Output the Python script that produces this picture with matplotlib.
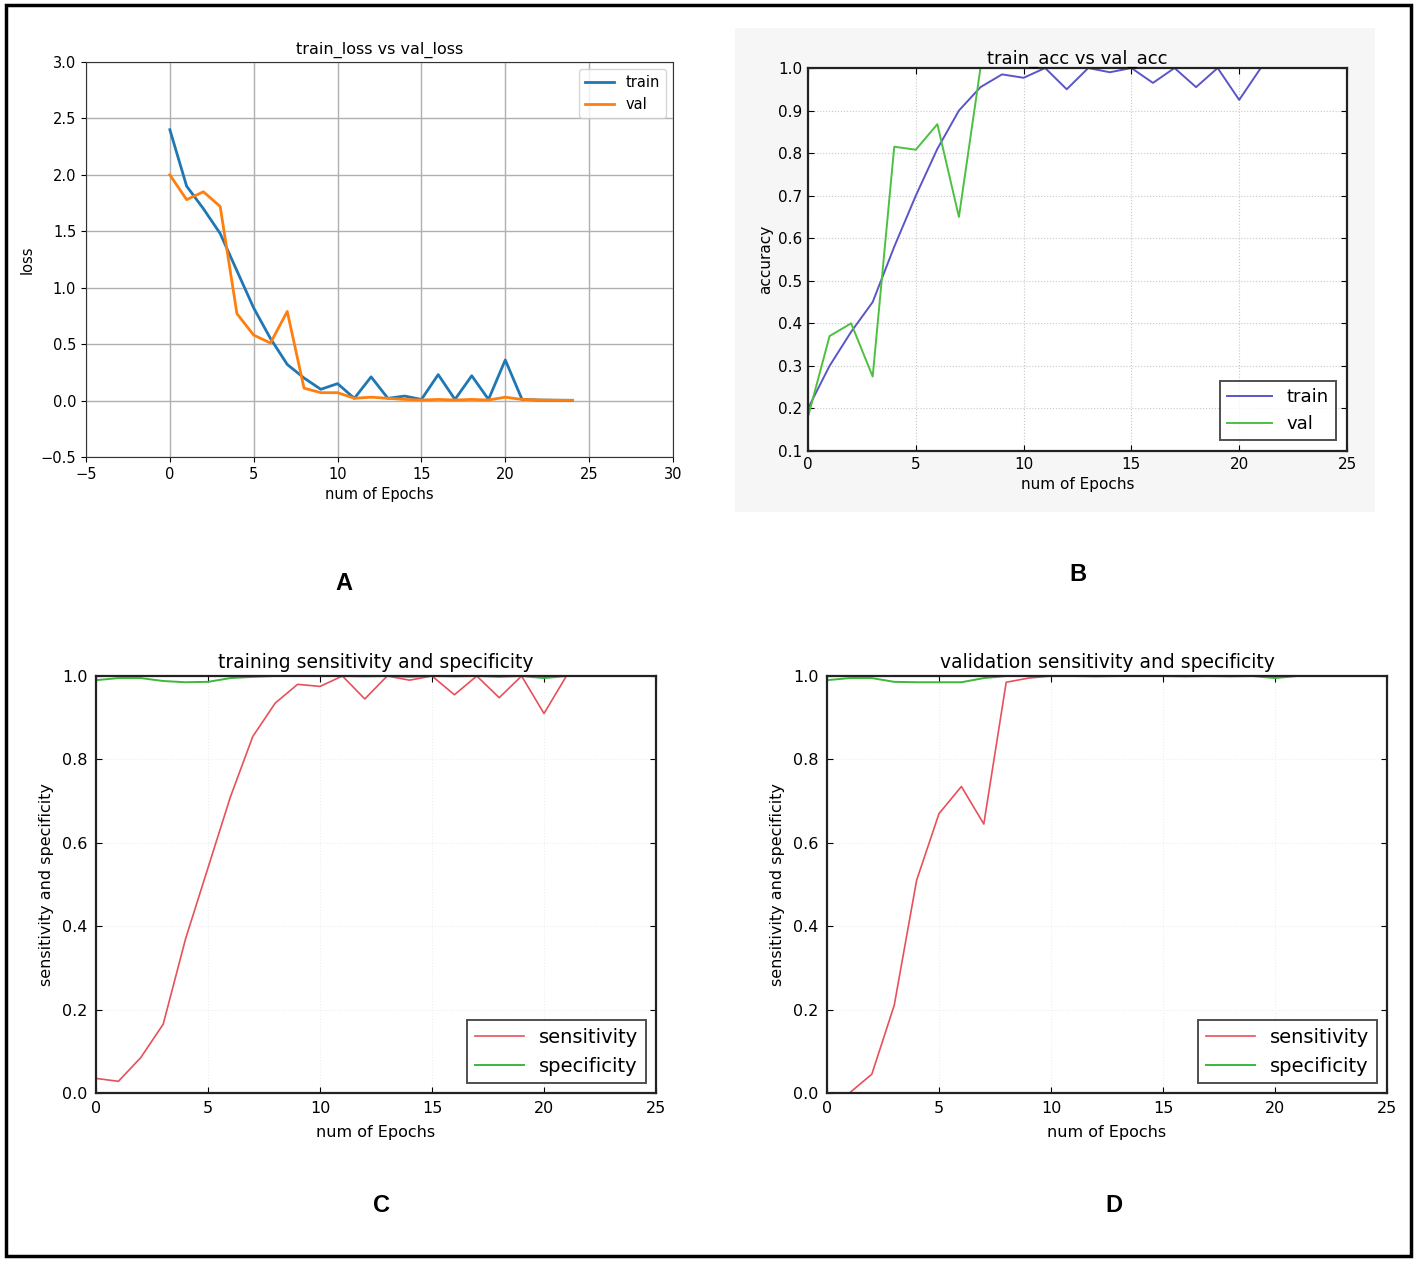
import matplotlib.pyplot as plt
from matplotlib.patches import Rectangle
import numpy as np

# ---- data ----
epochs = np.arange(25)
train_loss = [2.40, 1.90, 1.70, 1.48, 1.15, 0.82, 0.55, 0.32, 0.20, 0.10, 0.15, 0.02,
              0.21, 0.02, 0.04, 0.01, 0.23, 0.01, 0.22, 0.01, 0.36, 0.01, 0.005, 0.003, 0.002]
val_loss = [2.00, 1.78, 1.85, 1.72, 0.77, 0.58, 0.51, 0.79, 0.11, 0.07, 0.07, 0.02,
            0.03, 0.02, 0.01, 0.005, 0.01, 0.005, 0.01, 0.005, 0.03, 0.01, 0.005, 0.003, 0.002]

train_acc = [0.20, 0.30, 0.38, 0.45, 0.58, 0.70, 0.81, 0.90, 0.955, 0.985, 0.977, 1.0,
             0.95, 1.0, 0.99, 1.0, 0.965, 1.0, 0.955, 1.0, 0.925, 1.0, 1.0, 1.0, 1.0]
val_acc = [0.18, 0.37, 0.40, 0.275, 0.815, 0.808, 0.868, 0.65, 1.0, 1.0, 1.0, 1.0,
           1.0, 1.0, 1.0, 1.0, 1.0, 1.0, 1.0, 1.0, 1.0, 1.0, 1.0, 1.0, 1.0]

train_sens = [0.035, 0.028, 0.085, 0.165, 0.37, 0.54, 0.71, 0.855, 0.935, 0.98, 0.975, 1.0,
              0.945, 1.0, 0.99, 1.0, 0.955, 1.0, 0.948, 1.0, 0.91, 1.0, 1.0, 1.0, 1.0]
train_spec = [0.99, 0.995, 0.995, 0.988, 0.985, 0.986, 0.995, 0.998, 1.0, 1.0, 1.0, 1.0,
              0.999, 1.0, 0.998, 1.0, 0.999, 1.0, 0.998, 1.0, 0.995, 1.0, 1.0, 1.0, 1.0]

val_sens = [0.0, 0.0, 0.045, 0.21, 0.51, 0.67, 0.735, 0.645, 0.985, 0.995, 1.0, 1.0,
            1.0, 1.0, 1.0, 1.0, 1.0, 1.0, 1.0, 1.0, 1.0, 1.0, 1.0, 1.0, 1.0]
val_spec = [0.99, 0.995, 0.995, 0.986, 0.985, 0.985, 0.985, 0.995, 1.0, 1.0, 1.0, 1.0,
            0.999, 1.0, 1.0, 1.0, 0.999, 1.0, 0.999, 1.0, 0.995, 1.0, 1.0, 1.0, 1.0]

W, H = 1417, 1261
fig = plt.figure(figsize=(W / 100, H / 100), dpi=100)
fig.patch.set_facecolor("white")


def px_axes(l, t, r, b):
    return fig.add_axes([l / W, 1 - b / H, (r - l) / W, (b - t) / H])


# light grey backdrop behind panel B (pasted screenshot)
fig.patches.append(Rectangle((735 / W, 1 - 512 / H), 640 / W, 484 / H,
                             transform=fig.transFigure, facecolor="#f6f6f6",
                             edgecolor="none", zorder=-5))

# ---- A: loss ----
ax = px_axes(86, 62, 673, 457)
ax.plot(epochs, train_loss, color="#1f77b4", lw=2, label="train")
ax.plot(epochs, val_loss, color="#ff7f0e", lw=2, label="val")
ax.set_xlim(-5, 30)
ax.set_ylim(-0.5, 3.0)
ax.set_xticks(np.arange(-5, 31, 5))
ax.set_yticks(np.arange(-0.5, 3.01, 0.5))
ax.grid(True, color="#b0b0b0", lw=1)
ax.set_title("train_loss vs val_loss", fontsize=11.5)
ax.set_xlabel("num of Epochs", fontsize=10.5)
ax.set_ylabel("loss", fontsize=10.5)
ax.tick_params(labelsize=10.5)
for s in ax.spines.values():
    s.set_color("#333333")
ax.legend(loc="upper right", fontsize=10.5)


def classic(ax):
    ax.tick_params(direction="in", top=True, right=True, length=4, labelsize=11.5, pad=6)
    for s in ax.spines.values():
        s.set_linewidth(1.6)
        s.set_color("#222222")


# ---- B: accuracy ----
ax = px_axes(808, 68, 1347, 451)
ax.set_facecolor("white")
ax.plot(epochs, train_acc, color="#5a55c8", lw=1.4, label="train")
ax.plot(epochs, val_acc, color="#4cc040", lw=1.4, label="val")
ax.set_xlim(0, 25)
ax.set_ylim(0.1, 1.0)
ax.set_yticks(np.arange(0.1, 1.01, 0.1))
ax.grid(True, color="#c8c8c8", ls=":", lw=0.8)
ax.set_title("train_acc vs val_acc", fontsize=13, pad=3)
ax.set_xlabel("num of Epochs", fontsize=11)
ax.set_ylabel("accuracy", fontsize=11)
classic(ax)
ax.tick_params(labelsize=11, pad=4)
leg = ax.legend(loc="lower right", fontsize=13, fancybox=False, handlelength=2.5,
                borderaxespad=0.6)
leg.get_frame().set_edgecolor("#222222")
leg.get_frame().set_linewidth(1.4)


def sens_panel(l, r, sens, spec, title):
    ax = px_axes(l, 676, r, 1093)
    ax.plot(epochs[:22], sens[:22], color="#e8505a", lw=1.2, label="sensitivity")
    ax.plot(epochs[:22], spec[:22], color="#3cb83c", lw=1.4, label="specificity")
    ax.set_xlim(0, 25)
    ax.set_ylim(0, 1.0)
    ax.set_yticks(np.arange(0, 1.01, 0.2))
    ax.grid(True, color="#eeeeee", ls=":", lw=0.8)
    ax.set_title(title, fontsize=13.5, pad=6)
    ax.set_xlabel("num of Epochs", fontsize=11.5, labelpad=6)
    ax.set_ylabel("sensitivity and specificity", fontsize=11.5, labelpad=6)
    classic(ax)
    leg = ax.legend(loc="lower right", fontsize=14, fancybox=False, handlelength=2.5,
                    borderaxespad=0.5)
    leg.get_frame().set_edgecolor("#222222")
    leg.get_frame().set_linewidth(1.4)
    return ax


sens_panel(96, 656, train_sens, train_spec, "training sensitivity and specificity")
sens_panel(827, 1387, val_sens, val_spec, "validation sensitivity and specificity")

# panel letters
for letter, x, y in [("A", 344, 583), ("B", 1078, 575), ("C", 381, 1206), ("D", 1114, 1206)]:
    fig.text(x / W, 1 - y / H, letter, fontsize=17, fontweight="bold",
             family="Liberation Sans", ha="center", va="center")

# outer border
fig.patches.append(Rectangle((6 / W, 1 - 1256 / H), 1405 / W, 1251 / H,
                             transform=fig.transFigure, facecolor="none",
                             edgecolor="black", lw=2.5, zorder=5))

fig.savefig("out.png", dpi=100)
